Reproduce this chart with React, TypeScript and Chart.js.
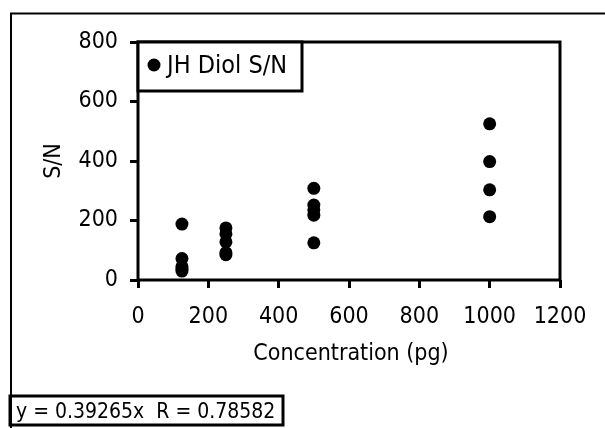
import React, { useEffect, useRef } from "react";
import { Chart, registerables } from "chart.js";

Chart.register(...registerables);

// ---- data ----
const concentrations = [125, 125, 125, 125, 125, 250, 250, 250, 250, 250, 500, 500, 500, 500, 500, 1000, 1000, 1000, 1000];
const snValues = [188, 72, 45, 38, 30, 175, 155, 128, 92, 85, 308, 252, 236, 218, 125, 525, 398, 303, 213];
const xTickValues = [0, 200, 400, 600, 800, 1000, 1200];
const yTickValues = [0, 200, 400, 600, 800];
const seriesLabel = "JH Diol S/N";
const xTitle = "Concentration (pg)";
const yTitle = "S/N";
const equationText = "y = 0.39265x  R = 0.78582";

const FONT = "'DejaVu Sans Condensed', 'DejaVu Sans', sans-serif";
const TICK_FS = 23;
const TEXT_FS = 23;
const LEGEND_FS = 25;
const EQ_FS = 21;

export default function App() {
  const ref = useRef<HTMLCanvasElement | null>(null);

  useEffect(() => {
    if (!ref.current) return;
    const points = concentrations.map((x, i) => ({ x, y: snValues[i] }));

    const decor = {
      id: "decor",
      afterDraw(chart: any) {
        const ctx = chart.ctx as CanvasRenderingContext2D;
        const a = chart.chartArea;
        ctx.save();
        // outer frame
        ctx.strokeStyle = "#000";
        ctx.lineWidth = 2;
        ctx.beginPath();
        ctx.moveTo(11, 430);
        ctx.lineTo(11, 13.5);
        ctx.lineTo(610, 13.5);
        ctx.stroke();
        // plot frame
        ctx.lineWidth = 3;
        ctx.strokeRect(a.left, a.top, a.right - a.left, a.bottom - a.top);
        // legend box
        ctx.fillStyle = "#fff";
        ctx.fillRect(a.left, a.top, 164, 49);
        ctx.strokeRect(a.left, a.top, 164, 49);
        ctx.fillStyle = "#000";
        ctx.beginPath();
        ctx.arc(a.left + 16, a.top + 23, 6.5, 0, Math.PI * 2);
        ctx.fill();
        ctx.font = `${LEGEND_FS}px ${FONT}`;
        ctx.textBaseline = "alphabetic";
        ctx.textAlign = "left";
        ctx.fillText(seriesLabel, a.left + 29, a.top + 31);
        // axis titles
        ctx.font = `${TEXT_FS}px ${FONT}`;
        ctx.textAlign = "center";
        ctx.fillText(xTitle, (a.left + a.right) / 2 + 2, 360);
        ctx.save();
        ctx.font = `${TICK_FS}px ${FONT}`;
        ctx.translate(60, (a.top + a.bottom) / 2);
        ctx.rotate(-Math.PI / 2);
        ctx.fillText(yTitle, 0, 0);
        ctx.restore();
        // equation box
        ctx.lineWidth = 3;
        ctx.strokeRect(10, 396, 273, 29);
        ctx.font = `${EQ_FS}px ${FONT}`;
        ctx.textAlign = "left";
        ctx.fillText(equationText, 16, 418);
        ctx.restore();
      },
    };

    const chart = new Chart(ref.current, {
      type: "scatter",
      data: {
        datasets: [
          {
            label: seriesLabel,
            data: points,
            backgroundColor: "#000",
            borderColor: "#000",
            borderWidth: 0,
            pointRadius: 6.5,
            pointHoverRadius: 6.5,
          },
        ],
      },
      options: {
        animation: false,
        responsive: false,
        maintainAspectRatio: false,
        events: [],
        layout: { padding: { top: 42, right: 45, left: 0, bottom: 0 } },
        plugins: { legend: { display: false }, tooltip: { enabled: false }, title: { display: false } },
        scales: {
          x: {
            type: "linear",
            min: 0,
            max: 1200,
            afterFit(scale: any) {
              scale.height = 148;
            },
            afterBuildTicks(scale: any) {
              scale.ticks = xTickValues.map((v) => ({ value: v }));
            },
            ticks: { color: "#000", font: { family: FONT, size: TICK_FS }, padding: 15, maxRotation: 0, autoSkip: false, callback: (v: any) => String(v) },
            grid: { display: true, drawOnChartArea: false, drawTicks: true, tickLength: 8, tickWidth: 3, tickColor: "#000" },
            border: { display: false },
          },
          y: {
            type: "linear",
            min: 0,
            max: 800,
            afterFit(scale: any) {
              scale.width = 138;
            },
            afterBuildTicks(scale: any) {
              scale.ticks = yTickValues.map((v) => ({ value: v }));
            },
            ticks: { color: "#000", font: { family: FONT, size: TICK_FS }, padding: 12, autoSkip: false, callback: (v: any) => String(v) },
            grid: { display: true, drawOnChartArea: false, drawTicks: true, tickLength: 8, tickWidth: 3, tickColor: "#000" },
            border: { display: false },
          },
        },
      },
      plugins: [decor],
    });
    return () => chart.destroy();
  }, []);

  return (
    <div style={{ position: "fixed", left: 0, top: 0, width: 605, height: 428, background: "#fff" }}>
      <canvas ref={ref} width={605} height={428} style={{ width: 605, height: 428, display: "block" }} />
    </div>
  );
}
